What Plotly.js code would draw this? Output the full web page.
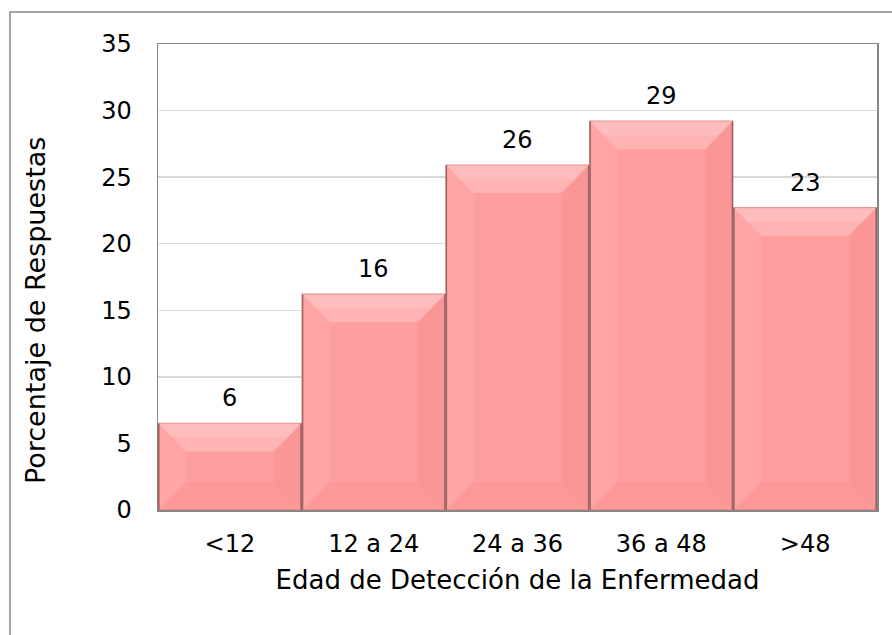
<!DOCTYPE html>
<html>
<head>
<meta charset="utf-8">
<script src="https://cdn.plot.ly/plotly-3.0.1.min.js"></script>
<style>
html,body{margin:0;padding:0;background:#fff;}
#chart{width:892px;height:635px;}
</style>
</head>
<body>
<div id="chart"></div>
<script>
// Data
var categories = ['<12', '12 a 24', '24 a 36', '36 a 48', '>48'];
var values = [6.5, 16.2, 25.9, 29.2, 22.7];
var valueLabels = ['6', '16', '26', '29', '23'];
var yTicks = [0, 5, 10, 15, 20, 25, 30, 35];
var xTitle = 'Edad de Detección de la Enfermedad';
var yTitle = 'Porcentaje de Respuestas';

var positions = categories.map(function (c, i) { return i; });
var barWidth = 0.99;
var FONT = 'DejaVu Sans, Verdana, sans-serif';

// Bevel (lighting) shapes derived from the data
var shapes = [];
var bx = 0.19;   // horizontal bevel in category units
var byMax = 2.1; // vertical bevel in value units
var p = function (pts, close) {
  return 'M' + pts.map(function (q) { return q[0] + ',' + q[1]; }).join(' L') + (close ? ' Z' : '');
};
values.forEach(function (v, i) {
  var x0 = positions[i] - barWidth / 2, x1 = positions[i] + barWidth / 2;
  var by = Math.min(byMax, v / 2);
  var bxx = Math.min(bx, barWidth / 2);
  // top (light)
  shapes.push({type: 'path', xref: 'x', yref: 'y', layer: 'above', line: {width: 0},
    fillcolor: 'rgba(255,255,255,0.22)',
    path: p([[x0, v], [x1, v], [x1 - bxx, v - by], [x0 + bxx, v - by]], true)});
  // softer highlight just under the top edge
  shapes.push({type: 'path', xref: 'x', yref: 'y', layer: 'above', line: {width: 0},
    fillcolor: 'rgba(255,255,255,0.12)',
    path: p([[x0, v], [x1, v], [x1 - bxx * 0.5, v - by * 0.5], [x0 + bxx * 0.5, v - by * 0.5]], true)});
  // bottom (slightly dark)
  shapes.push({type: 'path', xref: 'x', yref: 'y', layer: 'above', line: {width: 0},
    fillcolor: 'rgba(200,70,70,0.06)',
    path: p([[x0, 0], [x1, 0], [x1 - bxx, by], [x0 + bxx, by]], true)});
  // left (light)
  shapes.push({type: 'path', xref: 'x', yref: 'y', layer: 'above', line: {width: 0},
    fillcolor: 'rgba(255,255,255,0.08)',
    path: p([[x0, 0], [x0, v], [x0 + bxx, v - by], [x0 + bxx, by]], true)});
  // right (dark)
  shapes.push({type: 'path', xref: 'x', yref: 'y', layer: 'above', line: {width: 0},
    fillcolor: 'rgba(180,60,60,0.07)',
    path: p([[x1, 0], [x1, v], [x1 - bxx, v - by], [x1 - bxx, by]], true)});
  // dark side edges
  shapes.push({type: 'path', xref: 'x', yref: 'y', layer: 'above',
    line: {color: '#9A6262', width: 1.5},
    path: p([[x0, 0], [x0, v]], false)});
  shapes.push({type: 'path', xref: 'x', yref: 'y', layer: 'above',
    line: {color: '#9A6262', width: 1.5},
    path: p([[x1, 0], [x1, v]], false)});
});

// Outer chart frame
shapes.push({type: 'rect', xref: 'paper', yref: 'paper',
  x0: -0.2058, x1: 1.04, y0: -0.35, y1: 1.0687,
  line: {color: '#888888', width: 1.5}, fillcolor: 'rgba(0,0,0,0)', layer: 'below'});

var annotations = values.map(function (v, i) {
  return {x: positions[i], y: v, xref: 'x', yref: 'y', text: valueLabels[i],
    showarrow: false, yanchor: 'bottom', yshift: 9,
    font: {family: FONT, size: 24, color: '#000'}};
});
// Y axis title (placed as in the original, slightly below the plot centre)
annotations.push({xref: 'paper', yref: 'paper', x: -0.171, y: 0.427,
  xanchor: 'center', yanchor: 'middle', textangle: -90, showarrow: false,
  text: yTitle, font: {family: FONT, size: 27, color: '#000'}});

var trace = {
  type: 'bar',
  x: positions,
  y: values,
  width: barWidth,
  marker: {color: '#FF9E9E', line: {color: '#EE8A8A', width: 1.5}},
  hoverinfo: 'none'
};

var layout = {
  width: 892, height: 635,
  margin: {l: 158, r: 15, t: 44, b: 125},
  paper_bgcolor: '#fff', plot_bgcolor: '#fff',
  showlegend: false,
  font: {family: FONT, size: 24, color: '#000'},
  xaxis: {
    range: [-0.5, 4.5],
    tickvals: positions, ticktext: categories,
    showgrid: false, zeroline: false,
    showline: true, linecolor: '#868686', linewidth: 1.5, mirror: true,
    ticks: '', ticklabelstandoff: 12,
    tickfont: {family: FONT, size: 24, color: '#000'},
    title: {text: xTitle, standoff: 13,
      font: {family: FONT, size: 26, color: '#000'}}
  },
  yaxis: {
    range: [0, 35], tickvals: yTicks,
    showgrid: true, gridcolor: '#D9D9D9', gridwidth: 1.5,
    zeroline: false,
    showline: true, linecolor: '#868686', linewidth: 1.5, mirror: true,
    ticks: '', ticklabelstandoff: 20,
    tickfont: {family: FONT, size: 24, color: '#000'}
  },
  shapes: shapes,
  annotations: annotations
};

Plotly.newPlot('chart', [trace], layout, {displayModeBar: false, staticPlot: true});
</script>
</body>
</html>
